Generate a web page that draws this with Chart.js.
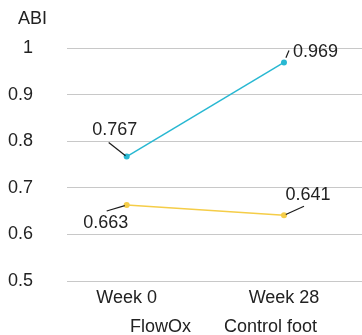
<!DOCTYPE html>
<html>
<head>
<meta charset="utf-8">
<script src="https://cdn.jsdelivr.net/npm/chart.js@4/dist/chart.umd.min.js"></script>
<style>
  html, body { margin: 0; padding: 0; background: #ffffff; overflow: hidden; }
  #wrap { width: 362px; height: 335px; }
</style>
</head>
<body>
<div id="wrap"><canvas id="abi" width="362" height="335"></canvas></div>
<script>
// Ankle-brachial index at baseline and after 28 weeks
const categories = ['Week 0', 'Week 28'];
const flowOxValues = [0.767, 0.969];
const controlValues = [0.663, 0.641];
const seriesNames = ['FlowOx', 'Control foot'];
const yTicks = [0.5, 0.6, 0.7, 0.8, 0.9, 1];
const yTickLabels = ['0.5', '0.6', '0.7', '0.8', '0.9', '1'];
const yAxisName = 'ABI';

const FONT = "'Liberation Sans', Arial, Helvetica, sans-serif";
const TEXT = '#222222';

// where each value label sits relative to its point:
// [label dx, label dy, leader end dx, leader end dy, leader gap from point, text align]
const calloutPlacement = [
  [[-12, -27, -18, -14, 1.5, 'center'], [9, -10, 5, -12, 5, 'left']],
  [[-21, 18, -20, 6, 2, 'center'], [24, -20, 20, -9, 2, 'center']]
];

const valueCallouts = {
  id: 'valueCallouts',
  afterDatasetsDraw(chart) {
    const ctx = chart.ctx;
    ctx.save();
    chart.data.datasets.forEach((ds, di) => {
      const meta = chart.getDatasetMeta(di);
      meta.data.forEach((pt, i) => {
        const [tx, ty, lx, ly, gap, align] = calloutPlacement[di][i];
        const len = Math.hypot(lx, ly);
        ctx.strokeStyle = '#1a1a1a';
        ctx.lineWidth = 1.2;
        ctx.beginPath();
        ctx.moveTo(pt.x + lx / len * gap, pt.y + ly / len * gap);
        ctx.lineTo(pt.x + lx, pt.y + ly);
        ctx.stroke();
        ctx.fillStyle = TEXT;
        ctx.font = '18px ' + FONT;
        ctx.textAlign = align;
        ctx.textBaseline = 'middle';
        ctx.fillText(String(ds.data[i].y), pt.x + tx, pt.y + ty);
      });
    });
    ctx.restore();
  }
};

const axisName = {
  id: 'axisName',
  afterDraw(chart) {
    const ctx = chart.ctx;
    ctx.save();
    ctx.fillStyle = TEXT;
    ctx.font = '18px ' + FONT;
    ctx.textAlign = 'left';
    ctx.textBaseline = 'middle';
    ctx.fillText(yAxisName, 18, 19);
    ctx.restore();
  }
};

const toPoints = vals => vals.map((v, i) => ({ x: i, y: v }));

new Chart(document.getElementById('abi'), {
  type: 'line',
  data: {
    datasets: [
      {
        label: seriesNames[0],
        data: toPoints(flowOxValues),
        borderColor: '#28b8d2',
        backgroundColor: '#28b8d2',
        borderWidth: 1.5,
        pointRadius: 3,
        pointHoverRadius: 3,
        pointBorderWidth: 0
      },
      {
        label: seriesNames[1],
        data: toPoints(controlValues),
        borderColor: '#f5cd48',
        backgroundColor: '#f5cd48',
        borderWidth: 1.5,
        pointRadius: 3,
        pointHoverRadius: 3,
        pointBorderWidth: 0
      }
    ]
  },
  options: {
    responsive: false,
    animation: false,
    events: [],
    layout: { autoPadding: false, padding: { top: 48, left: 0, right: 0, bottom: -11 } },
    scales: {
      x: {
        type: 'linear',
        min: -0.3795,
        max: 1.496,
        afterBuildTicks: scale => { scale.ticks = categories.map((c, i) => ({ value: i })); },
        afterFit: scale => { scale.height = 22; },
        ticks: {
          callback: v => categories[v],
          color: TEXT,
          font: { family: FONT, size: 18 },
          padding: 6,
          maxRotation: 0,
          autoSkip: false
        },
        grid: { display: false, drawTicks: false },
        border: { display: false }
      },
      y: {
        min: 0.5,
        max: 1,
        afterBuildTicks: scale => { scale.ticks = yTicks.map(v => ({ value: v })); },
        afterFit: scale => { scale.width = 67; },
        ticks: {
          callback: (v, i) => yTickLabels[i],
          color: TEXT,
          font: { family: FONT, size: 18 },
          padding: 34
        },
        grid: { color: '#c8c8c8', lineWidth: 1, drawTicks: false },
        border: { display: false }
      }
    },
    plugins: {
      legend: {
        position: 'bottom',
        fullSize: false,
        labels: {
          color: TEXT,
          font: { family: FONT, size: 18 },
          boxWidth: 9,
          boxHeight: 1,
          padding: 15,
          generateLabels: chart => Chart.defaults.plugins.legend.labels.generateLabels(chart).map(item => Object.assign(item, {
            fillStyle: 'rgba(0,0,0,0)',
            strokeStyle: 'rgba(0,0,0,0)',
            lineWidth: 0
          }))
        }
      },
      tooltip: { enabled: false }
    }
  },
  plugins: [valueCallouts, axisName]
});
</script>
</body>
</html>
